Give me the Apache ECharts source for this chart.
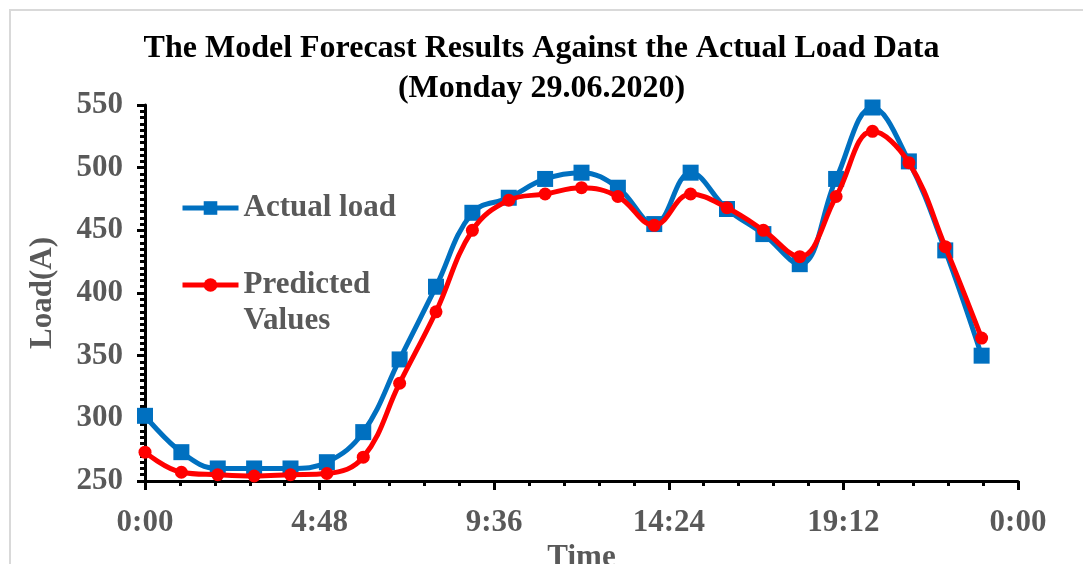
<!DOCTYPE html>
<html>
<head>
<meta charset="utf-8">
<script src="https://cdn.jsdelivr.net/npm/echarts@6/dist/echarts.min.js"></script>
<style>
  html, body { margin: 0; padding: 0; background: #ffffff; }
  #chart { width: 1083px; height: 564px; }
</style>
</head>
<body>
<div id="chart"></div>
<script>
// Hour of day for each reading
const hours = [0, 1, 2, 3, 4, 5, 6, 7, 8, 9, 10, 11, 12, 13, 14, 15, 16, 17, 18, 19, 20, 21, 22, 23];
// Measured load (A)
const actualLoad = [302, 273, 260, 260, 260, 265, 289, 347, 405, 464, 476, 491, 496, 484, 455, 496, 467, 447, 423, 491, 548, 505, 434, 350];
// Model forecast (A)
const predictedValues = [273, 257, 255, 254, 255, 256, 269, 328, 385, 450, 474, 479, 484, 477, 454, 479, 468, 450, 429, 477, 529, 504, 437, 364];
// Time axis labels (every 4 h 48 min)
const xTickLabels = ['0:00', '4:48', '9:36', '14:24', '19:12', '0:00'];

const SERIF = '"Liberation Serif", "DejaVu Serif", serif';
const GREY = '#595959';

const chart = echarts.init(document.getElementById('chart'), null, { renderer: 'canvas' });

const labelFont = { fontFamily: SERIF, fontWeight: 'bold', color: GREY, fontSize: 31 };

chart.setOption({
  animation: false,
  backgroundColor: '#ffffff',
  graphic: [{
    type: 'rect', silent: true, z: -1,
    shape: { x: 10, y: 10, width: 1200, height: 700 },
    style: { fill: 'none', stroke: '#d9d9d9', lineWidth: 2 }
  }],
  title: {
    text: 'The Model Forecast Results Against the Actual Load Data\n(Monday 29.06.2020)',
    left: 'center',
    top: 24,
    textStyle: { fontFamily: SERIF, fontWeight: 'bold', color: '#000000', fontSize: 32, lineHeight: 40 }
  },
  legend: {
    orient: 'vertical',
    left: 175,
    top: 185,
    itemWidth: 56,
    itemHeight: 17,
    itemGap: 5,
    // blank first line keeps the marker level with "Predicted"
    formatter: name => name === 'Predicted Values' ? ' \nPredicted\nValues' : name,
    lineStyle: { width: 5 },
    textStyle: { fontFamily: SERIF, fontWeight: 'bold', color: GREY, fontSize: 31, lineHeight: 36 },
    data: [{ name: 'Actual load' }, { name: 'Predicted Values' }]
  },
  grid: { left: 145, right: 65, top: 105, bottom: 83, containLabel: false, outerBoundsMode: 'none' },
  xAxis: {
    type: 'value',
    min: 0,
    max: 24,
    interval: 4.8,
    name: 'Time',
    nameLocation: 'middle',
    nameGap: 55,
    nameTextStyle: labelFont,
    axisLine: { show: true, lineStyle: { color: '#000000', width: 3 } },
    axisTick: { show: true, length: 9, lineStyle: { color: '#000000', width: 3 } },
    minorTick: { show: true, splitNumber: 5, length: 5, lineStyle: { color: '#000000', width: 3 } },
    splitLine: { show: false },
    axisLabel: Object.assign({ margin: 26, formatter: (v, i) => xTickLabels[i] }, labelFont)
  },
  yAxis: {
    type: 'value',
    min: 250,
    max: 550,
    interval: 50,
    name: 'Load(A)',
    nameLocation: 'middle',
    nameRotate: 90,
    nameGap: 87,
    nameTextStyle: labelFont,
    axisLine: { show: true, lineStyle: { color: '#000000', width: 3 } },
    axisTick: { show: true, length: 8, lineStyle: { color: '#000000', width: 3 } },
    minorTick: { show: true, splitNumber: 10, length: 5, lineStyle: { color: '#000000', width: 3 } },
    splitLine: { show: false },
    axisLabel: Object.assign({ margin: 22 }, labelFont)
  },
  series: [
    {
      name: 'Actual load',
      type: 'line',
      smooth: 0.4,
      data: hours.map((h, i) => [h, actualLoad[i]]),
      symbol: 'rect',
      symbolSize: 16,
      lineStyle: { color: '#0070C0', width: 5 },
      itemStyle: { color: '#0070C0' },
      z: 2
    },
    {
      name: 'Predicted Values',
      type: 'line',
      smooth: 0.4,
      data: hours.map((h, i) => [h, predictedValues[i]]),
      symbol: 'circle',
      symbolSize: 13,
      lineStyle: { color: '#FF0000', width: 5 },
      itemStyle: { color: '#FF0000' },
      z: 3
    }
  ]
});
</script>
</body>
</html>
